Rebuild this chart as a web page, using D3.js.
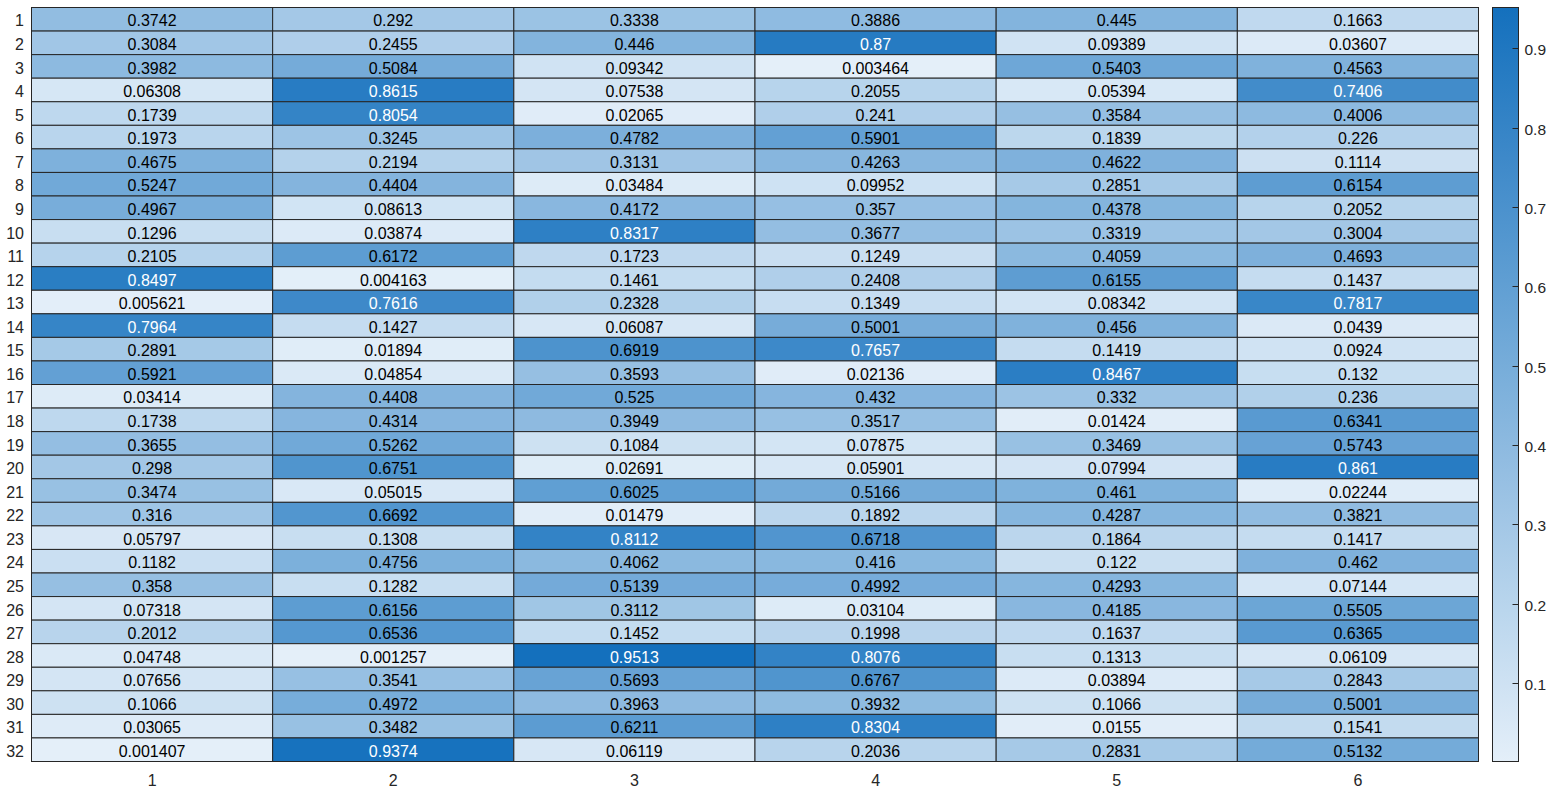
<!DOCTYPE html>
<html><head><meta charset="utf-8">
<script src="https://cdn.jsdelivr.net/npm/d3@7"></script>
<style>
html,body{margin:0;padding:0;background:#fff;}
svg{display:block;font-family:"Liberation Sans",Arial,sans-serif;}
</style></head>
<body>
<script>
const rowLabels = d3.range(1, 33).map(String);
const colLabels = ["1","2","3","4","5","6"];
const values = [
[0.3742,0.292,0.3338,0.3886,0.445,0.1663],
[0.3084,0.2455,0.446,0.87,0.09389,0.03607],
[0.3982,0.5084,0.09342,0.003464,0.5403,0.4563],
[0.06308,0.8615,0.07538,0.2055,0.05394,0.7406],
[0.1739,0.8054,0.02065,0.241,0.3584,0.4006],
[0.1973,0.3245,0.4782,0.5901,0.1839,0.226],
[0.4675,0.2194,0.3131,0.4263,0.4622,0.1114],
[0.5247,0.4404,0.03484,0.09952,0.2851,0.6154],
[0.4967,0.08613,0.4172,0.357,0.4378,0.2052],
[0.1296,0.03874,0.8317,0.3677,0.3319,0.3004],
[0.2105,0.6172,0.1723,0.1249,0.4059,0.4693],
[0.8497,0.004163,0.1461,0.2408,0.6155,0.1437],
[0.005621,0.7616,0.2328,0.1349,0.08342,0.7817],
[0.7964,0.1427,0.06087,0.5001,0.456,0.0439],
[0.2891,0.01894,0.6919,0.7657,0.1419,0.0924],
[0.5921,0.04854,0.3593,0.02136,0.8467,0.132],
[0.03414,0.4408,0.525,0.432,0.332,0.236],
[0.1738,0.4314,0.3949,0.3517,0.01424,0.6341],
[0.3655,0.5262,0.1084,0.07875,0.3469,0.5743],
[0.298,0.6751,0.02691,0.05901,0.07994,0.861],
[0.3474,0.05015,0.6025,0.5166,0.461,0.02244],
[0.316,0.6692,0.01479,0.1892,0.4287,0.3821],
[0.05797,0.1308,0.8112,0.6718,0.1864,0.1417],
[0.1182,0.4756,0.4062,0.416,0.122,0.462],
[0.358,0.1282,0.5139,0.4992,0.4293,0.07144],
[0.07318,0.6156,0.3112,0.03104,0.4185,0.5505],
[0.2012,0.6536,0.1452,0.1998,0.1637,0.6365],
[0.04748,0.001257,0.9513,0.8076,0.1313,0.06109],
[0.07656,0.3541,0.5693,0.6767,0.03894,0.2843],
[0.1066,0.4972,0.3963,0.3932,0.1066,0.5001],
[0.03065,0.3482,0.6211,0.8304,0.0155,0.1541],
[0.001407,0.9374,0.06119,0.2036,0.2831,0.5132]
];
const colorbarTicks = [0.1,0.2,0.3,0.4,0.5,0.6,0.7,0.8,0.9];

const W = 1552, H = 794;
const pLeft = 31.5, pRight = 1478.5, pTop = 7.5, pBottom = 761.5;
const cbLeft = 1492.5, cbRight = 1518.5;

const svg = d3.select("body").append("svg").attr("width", W).attr("height", H);

const x = d3.scaleBand().domain(colLabels).range([pLeft, pRight]);
const y = d3.scaleBand().domain(rowLabels).range([pTop, pBottom]);

const flat = values.flat();
const vmin = d3.min(flat), vmax = d3.max(flat);
const color = d3.scaleLinear().domain([vmin, vmax])
  .range(["rgb(228,239,249)", "rgb(20,112,189)"]).interpolate(d3.interpolateRgb);

const cells = [];
values.forEach((row, i) => row.forEach((v, j) => cells.push({r: rowLabels[i], c: colLabels[j], v})));

const fmt = v => d3.format(".4~g")(v);

const g = svg.append("g");
g.selectAll("rect.cell").data(cells).join("rect")
  .attr("class", "cell")
  .attr("x", d => x(d.c)).attr("y", d => y(d.r))
  .attr("width", x.bandwidth()).attr("height", y.bandwidth())
  .attr("fill", d => color(d.v))
  .attr("stroke", "#262626").attr("stroke-width", 1);

g.selectAll("text.val").data(cells).join("text")
  .attr("class", "val")
  .attr("x", d => x(d.c) + x.bandwidth() / 2)
  .attr("y", d => y(d.r) + y.bandwidth() / 2)
  .attr("dy", "0.45em")
  .attr("text-anchor", "middle")
  .attr("font-size", 16)
  .attr("fill", d => d.v > 0.72 ? "#ffffff" : "#000000")
  .text(d => fmt(d.v));

g.append("rect").attr("x", pLeft).attr("y", pTop)
  .attr("width", pRight - pLeft).attr("height", pBottom - pTop)
  .attr("fill", "none").attr("stroke", "#262626").attr("stroke-width", 1);

svg.append("g").selectAll("text").data(rowLabels).join("text")
  .attr("x", 24).attr("y", d => y(d) + y.bandwidth() / 2).attr("dy", "0.45em")
  .attr("text-anchor", "end").attr("font-size", 16).attr("fill", "#262626")
  .text(d => d);

svg.append("g").selectAll("text").data(colLabels).join("text")
  .attr("x", d => x(d) + x.bandwidth() / 2).attr("y", 780).attr("dy", "0.36em")
  .attr("text-anchor", "middle").attr("font-size", 16).attr("fill", "#262626")
  .text(d => d);

const cy = d3.scaleLinear().domain([vmin, vmax]).range([pBottom, pTop]);
const defs = svg.append("defs");
const grad = defs.append("linearGradient").attr("id", "cbg")
  .attr("x1", 0).attr("y1", 1).attr("x2", 0).attr("y2", 0);
d3.range(0, 1.0001, 0.1).forEach(t => {
  grad.append("stop").attr("offset", t).attr("stop-color", color(vmin + t * (vmax - vmin)));
});
svg.append("rect").attr("x", cbLeft).attr("y", pTop)
  .attr("width", cbRight - cbLeft).attr("height", pBottom - pTop)
  .attr("fill", "url(#cbg)").attr("stroke", "#262626").attr("stroke-width", 1);

const cbAxis = svg.append("g");
cbAxis.selectAll("line").data(colorbarTicks).join("line")
  .attr("x1", cbRight - 6).attr("x2", cbRight)
  .attr("y1", d => Math.round(cy(d)) + 0.5).attr("y2", d => Math.round(cy(d)) + 0.5)
  .attr("stroke", "#262626").attr("stroke-width", 1);
cbAxis.selectAll("text").data(colorbarTicks).join("text")
  .attr("x", cbRight + 6).attr("y", d => cy(d)).attr("dy", "0.45em")
  .attr("font-size", 15.5).attr("fill", "#262626")
  .text(d => d3.format(".1f")(d));
</script>
</body></html>
